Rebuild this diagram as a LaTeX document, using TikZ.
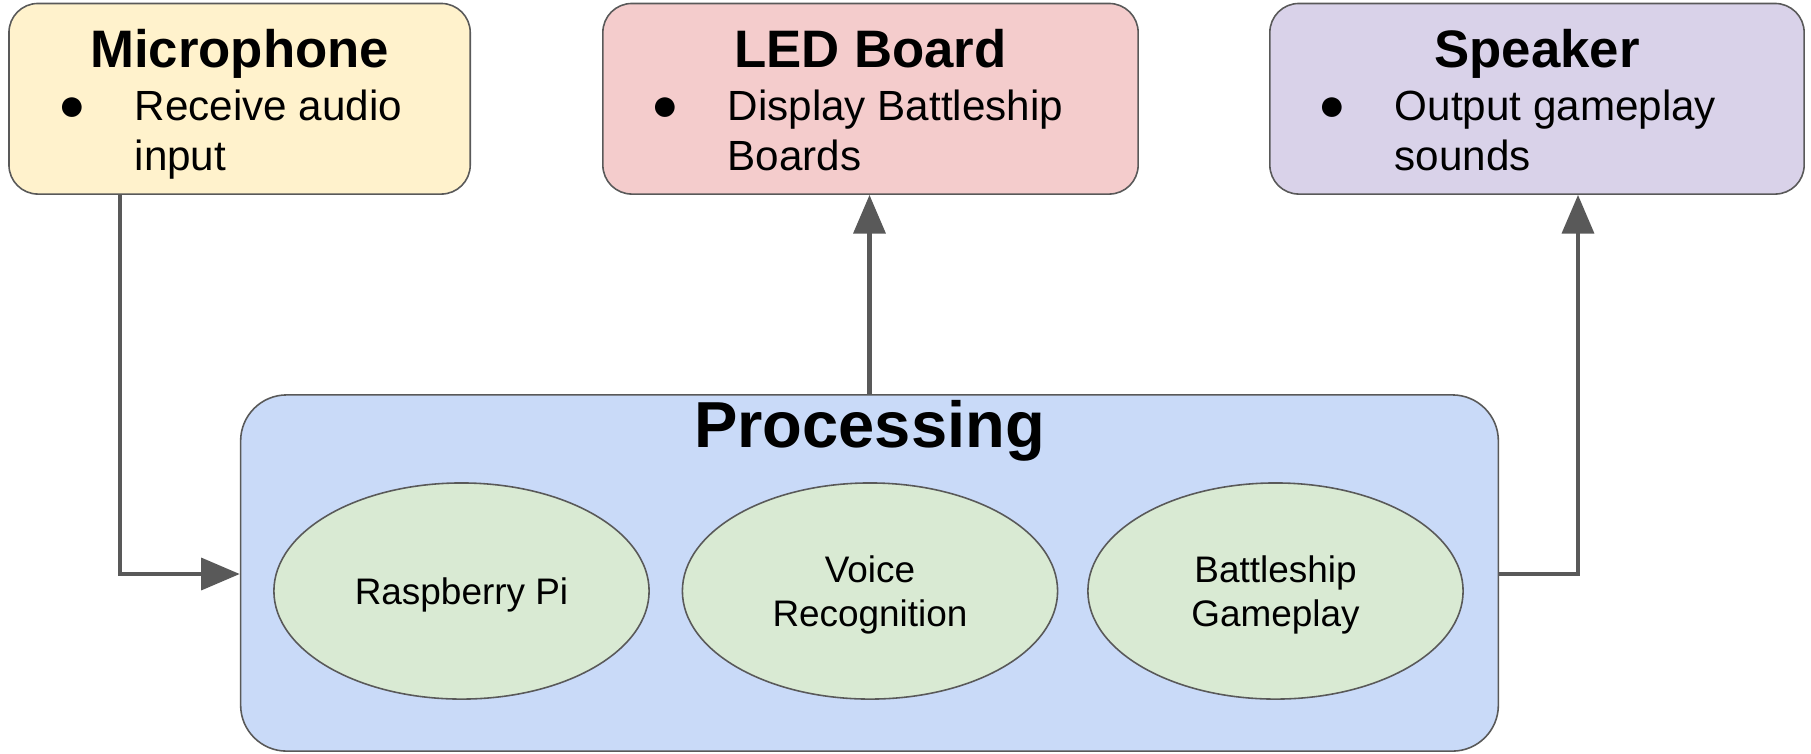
\documentclass[tikz,border=0pt]{standalone}
\usepackage{fontspec}
\setmainfont{Liberation Sans}
\usetikzlibrary{arrows.meta,shapes.geometric}
\definecolor{edge}{HTML}{595959}
\definecolor{micfill}{HTML}{FFF2CC}
\definecolor{ledfill}{HTML}{F4CCCC}
\definecolor{spkfill}{HTML}{D9D2E9}
\definecolor{procfill}{HTML}{C9DAF8}
\definecolor{chipfill}{HTML}{D9EAD3}
\tikzset{
	devbox/.style={draw=edge,line width=0.45pt,rounded corners=0.29cm,minimum height=1.905cm,inner sep=0pt},
	devtitle/.style={anchor=base,inner sep=0pt,font=\fontsize{15}{18}\selectfont\bfseries},
	dot/.style={inner sep=0pt,font=\fontsize{13}{15}\selectfont},
	item/.style={anchor=base west,align=left,inner sep=0pt,font=\fontsize{12}{14.2}\selectfont},
	chip/.style={ellipse,draw=edge,line width=0.45pt,fill=chipfill,minimum width=3.75cm,minimum height=2.16cm,inner sep=0pt,text depth=0pt,align=center,font=\fontsize{10.5}{12.5}\selectfont},
	wire/.style={draw=edge,line width=1.3pt},
	tip/.style={-{Triangle[length=11pt,width=9pt]}}
}
\begin{document}
\begin{tikzpicture}[x=0.01cm,y=-0.01cm]
	\useasboundingbox (0,0) rectangle (1811,753);
	\node[devbox,fill=micfill,minimum width=4.61cm] (mic) at (239.6,98.75) {};
	\node[devbox,fill=ledfill,minimum width=5.35cm] (led) at (870.5,98.75) {};
	\node[devbox,fill=spkfill,minimum width=5.34cm] (spk) at (1537,98.75) {};
	\node[devtitle] (mictitle) at (239.6,67) {Microphone};
	\node[devtitle] (ledtitle) at (870.5,67) {LED Board};
	\node[devtitle] (spktitle) at (1537,67) {Speaker};
	\node[dot] (micdot) at (72,109) {●};
	\node[dot] (leddot) at (665,109) {●};
	\node[dot] (spkdot) at (1332,109) {●};
	% base of a two-line node sits on its last line
	\node[item] (micitem) at (134,170) {Receive audio\\input};
	\node[item] (leditem) at (727,170) {Display Battleship\\Boards};
	\node[item] (spkitem) at (1394,170) {Output gameplay\\sounds};
	\node[draw=edge,line width=0.45pt,fill=procfill,rounded corners=0.46cm,minimum width=12.57cm,minimum height=3.56cm,inner sep=0pt] (proc) at (869.5,573) {};
	\node[anchor=base,inner sep=0pt,font=\fontsize{18.5}{22}\selectfont\bfseries] (proctitle) at (869.5,447) {Processing};
	\node[chip] (rpi) at (461.5,591) {Raspberry Pi};
	\node[chip] (voice) at (870,591) {Voice\\Recognition};
	\node[chip] (game) at (1275.5,591) {Battleship\\Gameplay};
	\coordinate (micturn) at (120,574);
	\coordinate (spkturn) at (1578,574);
	\draw[wire,tip] (mic.south -| micturn) -- (micturn) -- (micturn -| proc.west);
	\draw[wire,tip] (proc.north) -- (proc.north |- led.south);
	\draw[wire,tip] (spkturn -| proc.east) -- (spkturn) -- (spkturn |- spk.south);
\end{tikzpicture}
\end{document}
